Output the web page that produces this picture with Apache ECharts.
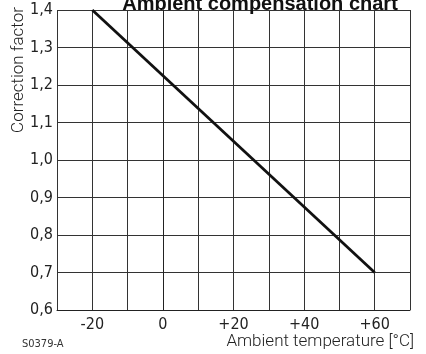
<!DOCTYPE html>
<html>
<head>
<meta charset="utf-8">
<script src="https://cdn.jsdelivr.net/npm/echarts@6/dist/echarts.min.js"></script>
<style>html,body{margin:0;padding:0;background:#fff}#c{width:426px;height:354px}</style>
</head>
<body>
<div id="c"></div>
<script>
var titleText = 'Ambient compensation chart';
var xName = 'Ambient temperature [°C]';
var yName = 'Correction factor';
var codeText = 'S0379-A';
var temperature = [-20, 60];
var factor = [1.4, 0.7];
var xLabeled = [-20, 0, 20, 40, 60];

var chart = echarts.init(document.getElementById('c'), null, {renderer: 'canvas'});
var narrow = '"Liberation Sans Narrow", "DejaVu Sans Condensed", sans-serif';
var light = 'Roboto, "Liberation Sans", sans-serif';
chart.setOption({
  animation: false,
  backgroundColor: '#fff',
  title: {
    text: titleText,
    left: 255, textAlign: 'center',
    top: -11,
    textStyle: {fontFamily: '"Liberation Sans", Arial, sans-serif', fontWeight: 'bold', fontSize: 20, color: '#111'}
  },
  grid: {left: 57, right: 16, top: 10, bottom: 44},
  xAxis: {
    type: 'value', min: -30, max: 70, interval: 10,
    axisLine: {show: true, lineStyle: {color: '#222', width: 1}},
    axisTick: {show: false},
    splitLine: {show: true, lineStyle: {color: '#333', width: 1}},
    axisLabel: {
      fontFamily: narrow, fontSize: 16, color: '#222', margin: 7,
      formatter: function (v) {
        if (xLabeled.indexOf(v) < 0) return '';
        return v > 0 ? '+' + v : String(v);
      }
    }
  },
  yAxis: {
    type: 'value', min: 0.6, max: 1.4, interval: 0.1,
    axisLine: {show: true, lineStyle: {color: '#222', width: 1}},
    axisTick: {show: false},
    splitLine: {show: true, lineStyle: {color: '#333', width: 1}},
    axisLabel: {
      fontFamily: narrow, fontSize: 16, color: '#222', margin: 4,
      formatter: function (v) { return v.toFixed(1).replace('.', ','); }
    }
  },
  series: [{
    type: 'line',
    data: temperature.map(function (t, i) { return [t, factor[i]]; }),
    symbol: 'none',
    lineStyle: {color: '#111', width: 2.8}
  }],
  graphic: [
    {type: 'text', right: 12, top: 333,
     style: {text: xName, font: '300 17px ' + light, fill: '#222'}},
    {type: 'text', left: 22, top: 339,
     style: {text: codeText, font: '11px ' + narrow, fill: '#333'}},
    {type: 'text', x: 10, y: 70, rotation: Math.PI / 2,
     style: {text: yName, font: '300 17px ' + light, fill: '#222', textAlign: 'center', textVerticalAlign: 'top'}}
  ]
});
</script>
</body>
</html>
